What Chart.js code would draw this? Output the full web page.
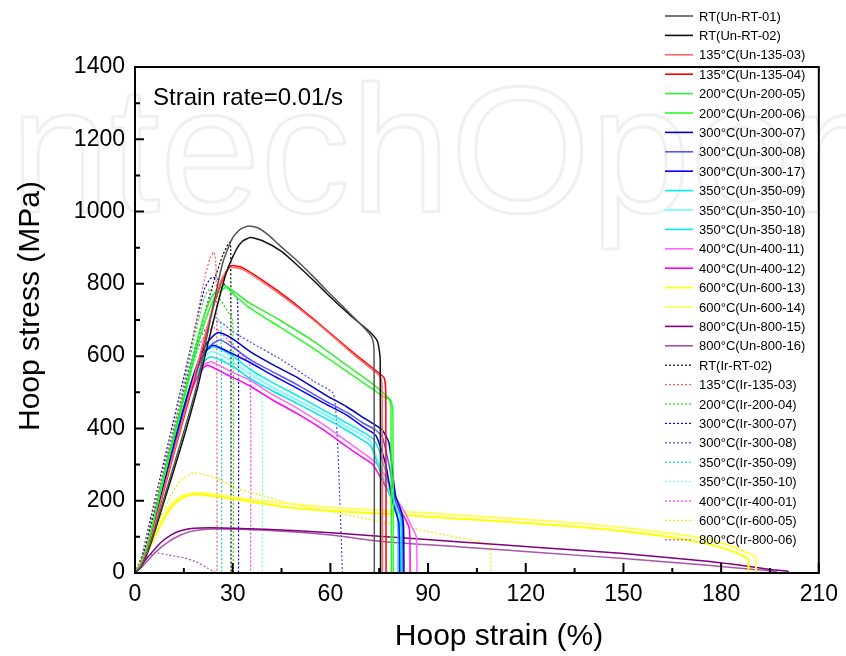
<!DOCTYPE html>
<html>
<head>
<meta charset="utf-8">
<style>
  html, body { margin: 0; padding: 0; background: #fff; }
  #wrap { width: 846px; height: 656px; }
</style>
</head>
<body>
<div id="wrap"><canvas id="myChart" width="846" height="656"></canvas></div>

<script src="https://cdn.jsdelivr.net/npm/chart.js"></script>

<script>
  // [strain %, stress MPa]
  const unRT01 = [[0,0],[2,20],[5,90],[9,210],[14,360],[19,520],[22,650],[24.5,760],[27,860],[30,928],[32.5,952],[35,960],[38,954],[41,935],[44,910],[50,862],[55,818],[59,780],[66,718],[71,672],[72.8,650],[73.4,620],[73.5,0]];
  const unRT02 = [[0,0],[2,18],[5,85],[9,200],[14,345],[19,505],[22,620],[25,730],[28,830],[31,893],[33,918],[35.5,928],[39,920],[45,890],[50,850],[55,808],[59,772],[66,714],[72,668],[74.5,640],[75.3,590],[75.4,0]];
  const un135_03 = [[0,0],[2,25],[5,100],[8.5,220],[13,370],[17.5,520],[21,640],[24,740],[26.5,810],[29,845],[33,840],[40,800],[47,755],[54.5,702],[62,645],[69,590],[74,555],[75.5,540],[75.9,500],[76,0]];
  const un135_04 = [[0,0],[2,22],[5,95],[8.5,215],[13,365],[17.5,510],[21,630],[24,735],[27,815],[29.5,850],[33,845],[40,805],[47,760],[54.5,705],[62,648],[69,595],[74,560],[76.5,540],[77,500],[77.1,0]];
  const un200_05 = [[0,0],[2,30],[5,120],[8,240],[12,385],[16,530],[19,640],[21.5,720],[24,770],[27.5,795],[31,775],[35,748],[44.4,700],[55,640],[65,575],[72,530],[76,500],[78,482],[78.6,460],[78.7,0]];
  const un200_06 = [[0,0],[2,28],[5,115],[8,230],[12,375],[16,515],[19,620],[22,710],[25,770],[28,790],[31,765],[35,735],[44.4,681],[55,620],[65,558],[72,515],[76,490],[78.5,478],[79.2,450],[79.3,0]];
  const un300_07 = [[0,0],[2,25],[5,105],[8,215],[12,360],[16,490],[19,575],[22,635],[25.4,665],[30,648],[35.6,611],[42,578],[50,540],[58,495],[65,460],[71,425],[74,408],[76,395],[78,360],[80,215],[82,165],[82.5,120],[82.6,0]];
  const un300_08 = [[0,0],[2,22],[5,100],[8,205],[12,345],[16,475],[19,560],[22,620],[26,645],[30,625],[35.6,589],[42,558],[50,520],[58,478],[65,445],[70,415],[74,395],[76,375],[78,300],[80,200],[82,150],[82.3,0]];
  const un300_17 = [[0,0],[2,24],[5,100],[8,210],[12,350],[16,480],[19,565],[21.5,610],[23.9,630],[28,615],[35.6,581],[42,548],[50,510],[58,470],[65,437],[70,405],[74,380],[77,300],[79,200],[81,140],[81.3,0]];
  const un350_09 = [[0,0],[2,28],[5,110],[8,220],[12,365],[16,490],[19,570],[22,615],[24.5,626],[30,600],[35.2,565],[42,528],[50,490],[58,450],[65,415],[70,390],[73,372],[75,340],[77,280],[79,220],[81.5,160],[81.8,0]];
  const un350_10 = [[0,0],[2,26],[5,105],[8,215],[12,355],[16,480],[19,560],[21.5,600],[23.9,612],[30,585],[35,552],[42,515],[50,478],[58,440],[65,405],[70,380],[72.5,362],[75,300],[78,228],[81,165],[81.4,0]];
  const un350_18 = [[0,0],[2,26],[5,105],[8,212],[12,350],[16,475],[19,550],[21.5,588],[23.6,598],[30,572],[35,540],[42,505],[50,468],[58,430],[65,395],[69.5,370],[72.5,350],[75,290],[78,222],[80.5,170],[80.8,0]];
  const un400_11 = [[0,0],[2,28],[5,110],[8,220],[12,360],[16,480],[19,550],[21.5,578],[23.6,584],[30,555],[35.2,534],[42,495],[50,455],[58,410],[65,365],[70.4,330],[74,305],[77,265],[79,222],[81,195],[83,166],[85,128],[86.4,100],[86.6,0]];
  const un400_12 = [[0,0],[2,26],[5,105],[8,215],[12,355],[16,470],[19,540],[21,568],[22.4,575],[28,550],[35.2,518],[42,480],[50,440],[58,395],[65,350],[69.5,322],[73,300],[76,255],[78,222],[80.5,185],[83,150],[84.3,120],[84.5,0]];
  const un600_13 = [[0,0],[2,30],[5,80],[8,135],[11,180],[14,205],[18,218],[25,212],[35,198],[47,182],[60,172],[78,163],[100,150],[136,128],[160,105],[175,82],[183,62],[187,46],[188.3,38],[188.4,0]];
  const un600_14 = [[0,0],[2,28],[5,78],[8,140],[11,188],[14,212],[19,222],[26,216],[35,204],[47,192],[60,181],[78,172],[100,160],[136,138],[160,115],[175,95],[184,72],[189,52],[190.6,45],[190.7,0]];
  const un800_15 = [[0,0],[2,22],[5,55],[8,85],[11,105],[14,117],[18,124],[30,124],[50,117],[75,102],[100,86],[125,70],[150,54],[175,33],[187,20],[195,10],[200.5,5],[200.6,0]];
  const un800_16 = [[0,0],[3,25],[6,55],[10,85],[14,105],[18,117],[24,122],[40,118],[60,105],[75,88],[100,72],[125,56],[150,40],[175,22],[190,10],[197,4],[197.1,0]];
  const irRT02 = [[0,0],[2,35],[5,130],[8,240],[12,380],[16,520],[20,670],[24,800],[27,880],[29,915],[29.4,900],[29.5,0]];
  const ir135_03 = [[0,0],[2,40],[5,150],[8,260],[11,370],[14,480],[17,610],[19.5,730],[21.5,820],[23,870],[24.2,888],[24.8,860],[25.1,700],[25.2,0]];
  const ir200_04 = [[0,0],[2,40],[5,145],[8,255],[11,370],[14,480],[17,600],[19.5,700],[21.4,765],[23,785],[25.5,765],[28,730],[30,700],[30.2,0]];
  const ir300_07 = [[0,0],[2,45],[5,160],[8,275],[11,390],[14,505],[17,620],[19.5,720],[21.5,790],[23.6,818],[26,810],[29,785],[31.5,755],[31.8,0]];
  const ir300_08 = [[0,0],[2,40],[5,140],[8,250],[11,360],[14,470],[17,575],[20,650],[23,690],[26,695],[30,668],[35.2,640],[45,590],[55,530],[60.6,500],[61.5,470],[62.5,300],[63.7,0]];
  const ir350_09 = [[0,0],[2,40],[5,145],[8,250],[11,360],[14,470],[17,580],[20,670],[22.5,715],[25,705],[26.4,690],[26.6,0]];
  const ir350_10 = [[0,0],[2,38],[5,135],[8,240],[11,345],[14,450],[17,550],[20,620],[23,640],[27,620],[32,585],[36,555],[38.8,535],[39.1,0]];
  const ir400_01 = [[0,0],[2,38],[5,140],[8,245],[11,350],[14,455],[17,560],[20,635],[22.5,670],[24.5,678],[28,650],[32,610],[35.2,578],[35.5,0]];
  const ir600_05 = [[0,0],[2,35],[5,95],[8,155],[11,215],[14,255],[18.4,277],[25,262],[32,232],[40,212],[47,193],[60,170],[71,150],[90,115],[105,87],[109,76],[109.2,0]];
  const ir800_06 = [[0,0],[1,15],[3,40],[6,56],[10,50],[15,42],[19,30],[22,15],[24,5],[25,0]];

  const seriesLabels = [
    'RT(Un-RT-01)', 'RT(Un-RT-02)', '135°C(Un-135-03)', '135°C(Un-135-04)',
    '200°C(Un-200-05)', '200°C(Un-200-06)', '300°C(Un-300-07)', '300°C(Un-300-08)',
    '300°C(Un-300-17)', '350°C(Un-350-09)', '350°C(Un-350-10)', '350°C(Un-350-18)',
    '400°C(Un-400-11)', '400°C(Un-400-12)', '600°C(Un-600-13)', '600°C(Un-600-14)',
    '800°C(Un-800-15)', '800°C(Un-800-16)', 'RT(Ir-RT-02)', '135°C(Ir-135-03)',
    '200°C(Ir-200-04)', '300°C(Ir-300-07)', '300°C(Ir-300-08)', '350°C(Ir-350-09)',
    '350°C(Ir-350-10)', '400°C(Ir-400-01)', '600°C(Ir-600-05)', '800°C(Ir-800-06)'
  ];
  const seriesData = [
    unRT01, unRT02, un135_03, un135_04, un200_05, un200_06, un300_07, un300_08, un300_17,
    un350_09, un350_10, un350_18, un400_11, un400_12, un600_13, un600_14, un800_15, un800_16,
    irRT02, ir135_03, ir200_04, ir300_07, ir300_08, ir350_09, ir350_10, ir400_01, ir600_05, ir800_06
  ];
  const seriesColors = [
    '#555555', '#111111', '#ff6666', '#ff0000', '#33ee33', '#22ff22', '#0000cc', '#5555ff', '#0000ff',
    '#00f0f0', '#66ffff', '#00e8e8', '#ff66ff', '#ff00ff', '#ffff00', '#ffff55', '#800080', '#aa55aa',
    '#000000', '#ff5555', '#00ee00', '#0000ff', '#4444ff', '#00dddd', '#66ffff', '#ff33ff', '#eeee00', '#aa55aa'
  ];
  const dottedFrom = 18;

  const xTicks = { min: 0, max: 210, step: 30, minor: 15 };
  const yTicks = { min: 0, max: 1400, step: 200, minor: 100 };

  const fontFamily = 'Arial, "Liberation Sans", Helvetica, sans-serif';
  Chart.defaults.font.family = fontFamily;
  Chart.defaults.color = '#000';

  const datasets = seriesData.map((pts, i) => ({
    label: seriesLabels[i],
    data: pts.map(p => ({ x: p[0], y: p[1] })),
    borderColor: seriesColors[i],
    borderWidth: (i === 14 || i === 15) ? 2 : (i >= dottedFrom ? 1.2 : 1.5),
    borderDash: i >= dottedFrom ? [2, 2] : [],
    pointRadius: 0,
    fill: false,
    tension: 0.2
  }));

  // faint watermark behind everything
  const watermark = {
    id: 'watermark',
    beforeDraw(chart) {
      const c = chart.ctx;
      c.save();
      c.fillStyle = '#fff';
      c.fillRect(0, 0, chart.width, chart.height);
      c.font = '180px ' + fontFamily;
      c.strokeStyle = '#f0f0f0';
      c.lineWidth = 3;
      c.lineJoin = 'round';
      c.textBaseline = 'alphabetic';
      c.strokeText('IntechOpen', -40, 212);
      c.restore();
    }
  };

  // box frame with inward ticks, titles and annotation
  const frame = {
    id: 'frame',
    afterDatasetsDraw(chart) {
      const c = chart.ctx, a = chart.chartArea;
      const xs = chart.scales.x, ys = chart.scales.y;
      c.save();
      c.strokeStyle = '#000';
      c.lineWidth = 2;
      c.strokeRect(a.left, a.top, a.right - a.left, a.bottom - a.top);
      c.beginPath();
      for (let v = xTicks.min; v <= xTicks.max; v += xTicks.minor) {
        const px = xs.getPixelForValue(v);
        const len = v % xTicks.step === 0 ? 10 : 5;
        c.moveTo(px, a.bottom);
        c.lineTo(px, a.bottom - len);
      }
      for (let v = yTicks.min; v <= yTicks.max; v += yTicks.minor) {
        const py = ys.getPixelForValue(v);
        const len = v % yTicks.step === 0 ? 9 : 5;
        c.moveTo(a.left, py);
        c.lineTo(a.left + len, py);
      }
      c.stroke();
      c.fillStyle = '#000';
      c.textBaseline = 'middle';
      c.font = '24px ' + fontFamily;
      c.fillText('Strain rate=0.01/s', 153, 98);
      c.font = '30px ' + fontFamily;
      c.textAlign = 'center';
      c.fillText('Hoop strain (%)', 499, 637);
      c.translate(31, 306);
      c.rotate(-Math.PI / 2);
      c.fillText('Hoop stress (MPa)', 0, 0);
      c.restore();
    }
  };

  // legend column at the upper right
  const sideLegend = {
    id: 'sideLegend',
    afterDraw(chart) {
      const c = chart.ctx;
      c.save();
      c.font = '13px ' + fontFamily;
      c.textBaseline = 'middle';
      chart.data.datasets.forEach((ds, i) => {
        const y = 16 + i * 19.4;
        c.beginPath();
        c.strokeStyle = ds.borderColor;
        c.lineWidth = i >= dottedFrom ? 1.2 : 1.6;
        c.setLineDash(ds.borderDash);
        c.moveTo(665, y);
        c.lineTo(693, y);
        c.stroke();
        c.setLineDash([]);
        c.fillStyle = '#000';
        c.fillText(ds.label, 699, y + 1);
      });
      c.restore();
    }
  };

  new Chart(document.getElementById('myChart'), {
    type: 'line',
    data: { datasets },
    options: {
      responsive: false,
      animation: false,
      layout: { padding: { top: 67, right: 25, left: 0, bottom: 0 } },
      plugins: { legend: { display: false }, tooltip: { enabled: false } },
      scales: {
        x: {
          type: 'linear',
          min: xTicks.min, max: xTicks.max,
          grid: { display: false, drawTicks: false },
          border: { display: false },
          ticks: { stepSize: xTicks.step, padding: 8, font: { size: 23 }, maxRotation: 0, callback: v => String(v) },
          afterFit(s) { s.height = 83; }
        },
        y: {
          type: 'linear',
          min: yTicks.min, max: yTicks.max,
          grid: { display: false, drawTicks: false },
          border: { display: false },
          ticks: { stepSize: yTicks.step, padding: 10, font: { size: 23 }, callback: v => String(v) },
          afterFit(s) { s.width = 135; }
        }
      }
    },
    plugins: [watermark, frame, sideLegend]
  });
</script>
</body>
</html>
